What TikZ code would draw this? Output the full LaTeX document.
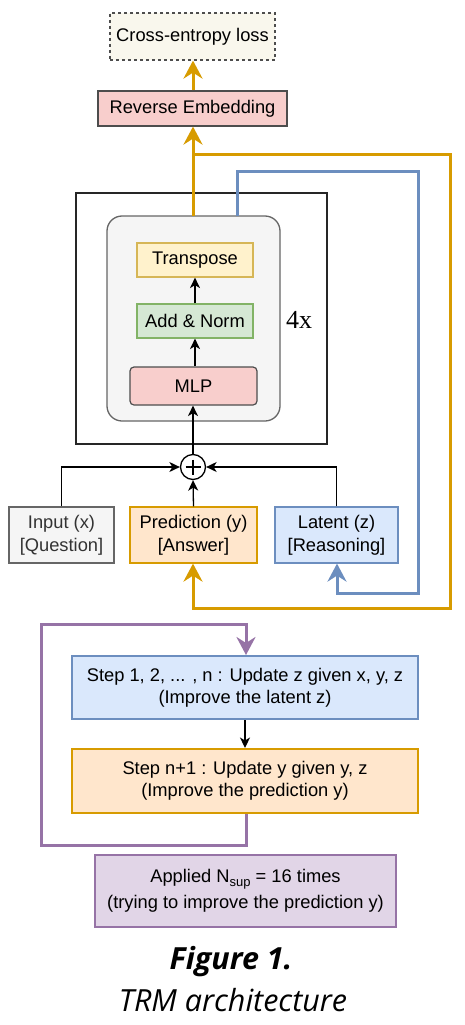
\documentclass[tikz,border=0pt]{standalone}
\usepackage{fontspec}
\setmainfont{Liberation Sans}
\newfontfamily\capfont{Open Sans}
\newfontfamily\serfont{Liberation Serif}
\usetikzlibrary{arrows.meta,calc}
\definecolor{orS}{HTML}{D79B00}
\definecolor{orF}{HTML}{FFE6CC}
\definecolor{blS}{HTML}{6C8EBF}
\definecolor{blF}{HTML}{DAE8FC}
\definecolor{grS}{HTML}{82B366}
\definecolor{grF}{HTML}{D5E8D4}
\definecolor{yeS}{HTML}{D6B656}
\definecolor{yeF}{HTML}{FFF2CC}
\definecolor{reF}{HTML}{F8CECC}
\definecolor{dkS}{HTML}{4D4D4D}
\definecolor{puS}{HTML}{9673A6}
\definecolor{puF}{HTML}{E1D5E7}
\definecolor{gyF}{HTML}{F5F5F5}
\definecolor{gyS}{HTML}{666666}
\definecolor{lsF}{HTML}{F9F7ED}
\definecolor{txG}{HTML}{333333}
\begin{document}
\begin{tikzpicture}[x=1pt,y=-1pt,
  box/.style={draw, line width=1.2pt, inner sep=0pt, align=center, font=\fontsize{18.3}{23}\selectfont},
  blk/.style={draw=black, line width=1.3pt, -{Stealth[length=10.5pt,width=10pt,inset=3pt]}},
  fb/.style={line width=3pt, -{Stealth[length=18pt,width=19pt,inset=6pt]}}]
\useasboundingbox (0,0) rectangle (465,1025);
% top
\node[box, draw=dkS, dashed, fill=lsF, minimum width=165pt, minimum height=47pt] (loss) at (192.5,36.5) {Cross-entropy loss};
\node[box, draw=dkS, fill=reF, minimum width=189pt, minimum height=35pt] (rev) at (192.5,108.5) {Reverse Embedding};
% blocks
\node[draw=black!85, line width=1.3pt, minimum width=251pt, minimum height=251pt, inner sep=0pt] (outer) at (201.5,318.5) {};
\node[draw=gyS, fill=gyF, line width=1.3pt, rounded corners=15pt, minimum width=173pt, minimum height=205pt, inner sep=0pt] (inner) at (193.5,318.5) {};
\node[box, draw=yeS, fill=yeF, minimum width=116pt, minimum height=34pt] (trans) at (195,260) {Transpose};
\node[box, draw=grS, fill=grF, minimum width=116pt, minimum height=34pt] (add) at (195,321) {Add \& Norm};
\node[box, draw=dkS, fill=reF, rounded corners=4pt, minimum width=127pt, minimum height=38pt] (mlp) at (193.5,386) {MLP};
\node[font=\serfont\fontsize{26}{30}\selectfont, inner sep=0pt] (fourx) at (299,320) {4x};
% plus
\node[draw=black, line width=1.3pt, circle, minimum size=25pt, inner sep=0pt] (plus) at (193,467) {};
\draw[line width=2pt] ($(plus.center)+(-7.5,0)$) -- ($(plus.center)+(7.5,0)$);
\draw[line width=2pt] ($(plus.center)+(0,-7.5)$) -- ($(plus.center)+(0,7.5)$);
% inputs
\node[box, draw=gyS, fill=gyF, text=txG, minimum width=105pt, minimum height=56pt] (inp) at (61.5,535) {Input (x)\\{}[Question]};
\node[box, draw=orS, fill=orF, minimum width=127pt, minimum height=56pt] (pred) at (193.5,535) {Prediction (y)\\{}[Answer]};
\node[box, draw=blS, fill=blF, minimum width=123pt, minimum height=56pt] (lat) at (336.5,535) {Latent (z)\\{}[Reasoning]};
% steps
\node[box, draw=blS, fill=blF, line width=2pt, minimum width=346pt, minimum height=63pt, font=\fontsize{18.3}{22}\selectfont] (step1) at (245,687.5) {Step 1, 2, ... , n : Update z given x, y, z\\(Improve the latent z)};
\node[box, draw=orS, fill=orF, line width=2pt, minimum width=346pt, minimum height=64pt, font=\fontsize{18.3}{22}\selectfont] (stepn) at (245,781) {Step n+1 : Update y given y, z\\(Improve the prediction y)};
\node[box, draw=puS, fill=puF, line width=2pt, minimum width=301pt, minimum height=72pt, font=\fontsize{18.3}{26}\selectfont] (appl) at (245.5,891) {Applied N\raisebox{-0.35ex}{\fontsize{13}{13}\selectfont sup} = 16 times\\(trying to improve the prediction y)};
% caption
\node[font=\capfont\bfseries\itshape\fontsize{30.5}{32}\selectfont, inner sep=0pt] (cap1) at (231,962) {Figure 1.};
\node[font=\capfont\itshape\fontsize{30.5}{32}\selectfont, inner sep=0pt] (cap2) at (233,1000) {TRM architecture};
% black connectors
\draw[blk] (add.south |- mlp.north) -- (add.south);
\draw[blk] (add.north) -- (trans.south);
\draw[blk] (plus.north) -- (plus.north |- mlp.south);
\draw[blk] (inp.north) |- (plus.west);
\draw[blk] (lat.north) |- (plus.east);
\draw[blk] (pred.north) -- (plus.south);
\draw[blk] (step1.south) -- (stepn.north);
% orange feedback
\coordinate (o0) at (193,216);
\coordinate (o1) at (193,154);
\coordinate (o2) at (450,154);
\coordinate (o3) at (450,608);
\coordinate (o4) at (193,608);
\draw[fb, draw=orS] (o0) -- (rev.south -| o0);
\draw[fb, draw=orS] (rev.north -| o0) -- (loss.south -| o0);
\draw[fb, draw=orS] (o1) -- (o2) -- (o3) -- (o4) -- (pred.south -| o4);
% blue feedback
\coordinate (b0) at (237,216);
\coordinate (b1) at (237,171);
\coordinate (b2) at (418,171);
\coordinate (b3) at (418,593);
\coordinate (b4) at (337,593);
\draw[fb, draw=blS] (b0) -- (b1) -- (b2) -- (b3) -- (b4) -- (lat.south -| b4);
% purple loop
\coordinate (p0) at (246,845);
\coordinate (p1) at (41,845);
\coordinate (p2) at (41,624);
\coordinate (p3) at (246,624);
\draw[fb, draw=puS] (stepn.south -| p0) -- (p0) -- (p1) -- (p2) -- (p3) -- (step1.north -| p3);
\end{tikzpicture}
\end{document}
